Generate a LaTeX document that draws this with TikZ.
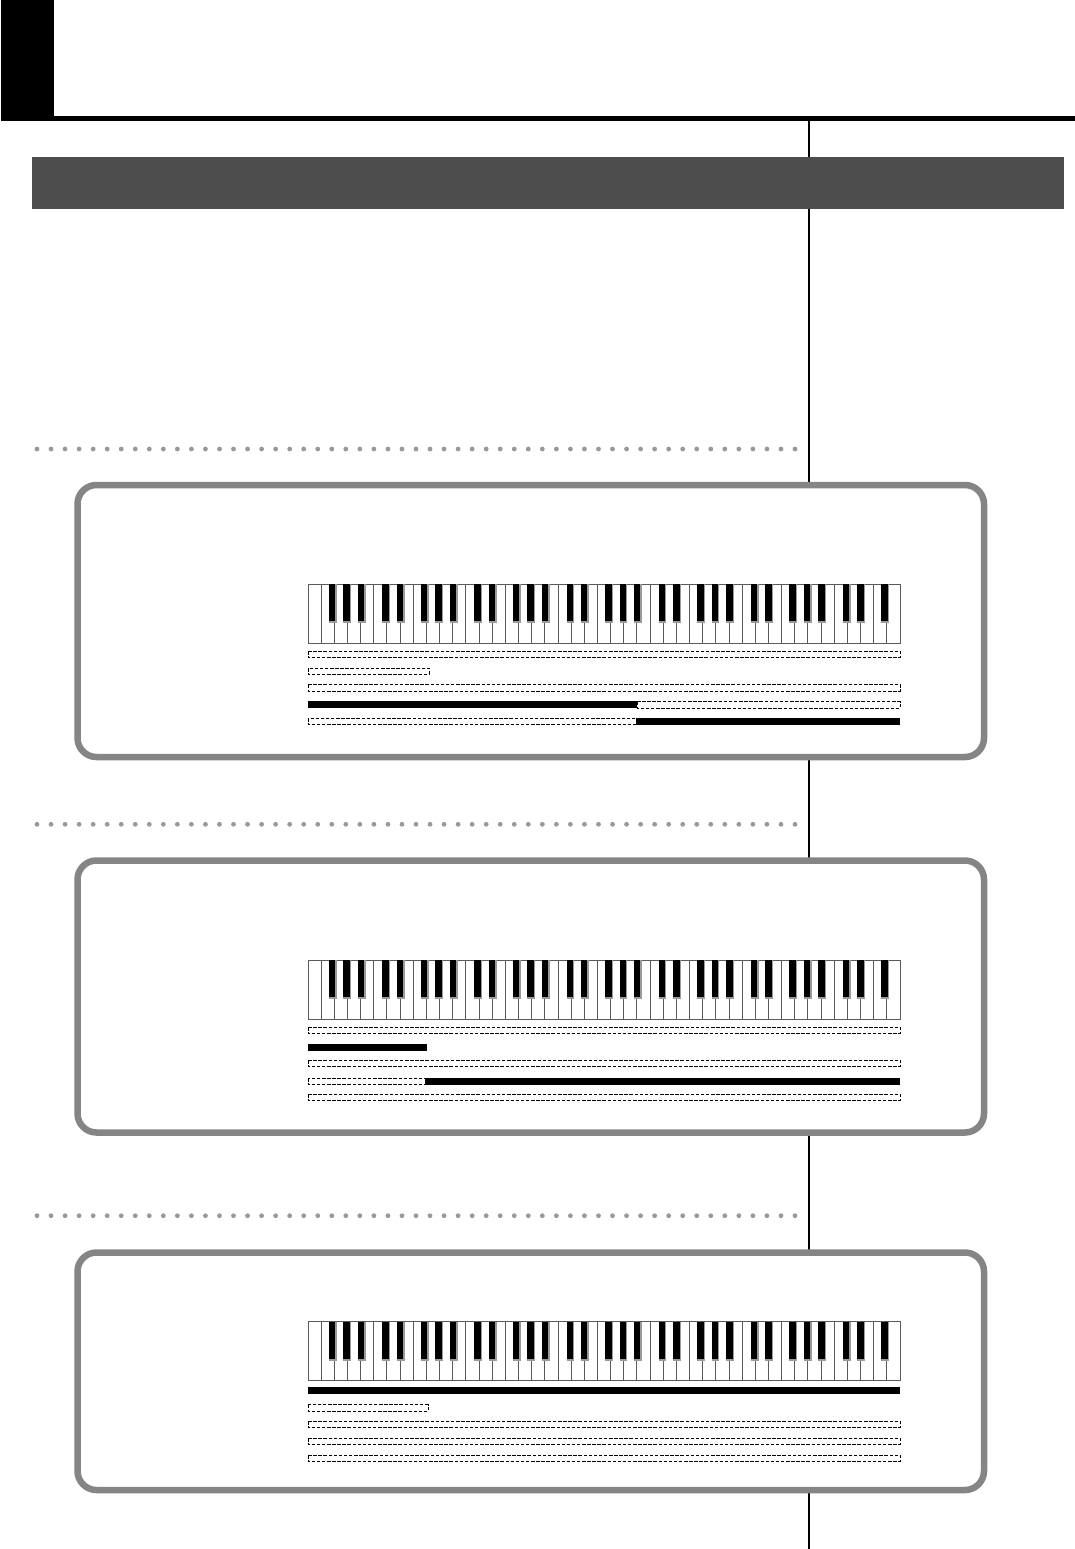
\documentclass[tikz,border=0pt]{standalone}
\usepackage{tikz}
\definecolor{barcol}{HTML}{4D4D4D}
\definecolor{panelcol}{HTML}{858585}
\definecolor{dotcol}{HTML}{999999}
\definecolor{keyline}{HTML}{5A5A5A}
\definecolor{keyshadecol}{HTML}{9A9A9A}
\tikzset{
  whitekey/.style={draw=keyline, line width=0.9pt, fill=white},
  blackkey/.style={fill=black},
  keyshade/.style={fill=keyshadecol},
  dashbar/.style={draw=black, line width=1pt, dash pattern=on 3.5pt off 1.6pt},
  solidbar/.style={fill=black},
  panelbox/.style={draw=panelcol, line width=6.5pt, rounded corners=19pt, fill=white},
  rulefill/.style={fill=black},
  dotmark/.style={fill=dotcol},
}
\newcommand{\kbd}[1]{%
  \foreach \i in {0,...,44}{%
    \draw[whitekey] ({308+\i*13.1556},#1) rectangle ({308+(\i+1)*13.1556},{#1+59});
  }%
  \foreach \i in {0,...,43}{%
    \pgfmathtruncatemacro{\m}{mod(\i,7)}%
    \ifcase\m \def\off{0}\or\def\off{-0.12}\or\def\off{-0.02}\or\def\off{0.08}\or\def\off{0}\or\def\off{-0.05}\or\def\off{0.05}\fi
    \ifnum\m=0 \else\ifnum\m=4 \else
      \pgfmathsetmacro{\cx}{308+(\i+1+\off)*13.1556}%
      \fill[keyshade] ({\cx-3.9},#1) rectangle ({\cx+3.9},{#1+39});
      \fill[blackkey] ({\cx-3.9},#1) rectangle ({\cx+2.5},{#1+37});
    \fi\fi
  }%
}
\newcommand{\dbar}[3]{\draw[dashbar] (#1,#3) rectangle (#2,{#3+6.5});}
\newcommand{\sbar}[3]{\fill[solidbar] (#1,#3) rectangle (#2,{#3+7});}
\newcommand{\dotrow}[1]{%
  \foreach \i in {0,...,54}{\fill[dotmark] ({37+\i*14.037},#1) circle (2.4);}%
}
\begin{document}
\begin{tikzpicture}[x=1pt,y=-1pt]
\useasboundingbox (0,0) rectangle (1075,1549);
\fill[white] (0,0) rectangle (1075,1549);
% vertical rule
\draw[line width=2pt] (809,121) -- (809,1549);
% header
\fill[rulefill] (1,0) rectangle (54,121);
\fill[rulefill] (54,116) rectangle (1075,121);
% grey title bar
\fill[barcol] (32,157) rectangle (1064,209);
% dotted separators
\dotrow{449}
\dotrow{824.3}
\dotrow{1215.7}
% panels
\draw[panelbox] (77.5,485) rectangle (984,757);
\draw[panelbox] (77.5,860.5) rectangle (984,1132.5);
\draw[panelbox] (77.5,1252.5) rectangle (984,1490);
% panel 1
\kbd{584}
\dbar{308}{900}{651}
\dbar{308}{429}{668}
\dbar{308}{900}{684.5}
\sbar{308}{637}{701}
\dbar{637}{900}{701.5}
\dbar{308}{636}{718}
\sbar{636}{900}{718}
% panel 2
\kbd{960}
\dbar{308}{900}{1027}
\sbar{308}{427}{1043.5}
\dbar{308}{900}{1060}
\dbar{308}{425}{1078}
\sbar{425}{900}{1078}
\dbar{308}{900}{1094}
% panel 3
\kbd{1321.5}
\sbar{308}{900}{1387}
\dbar{308}{428}{1404.5}
\dbar{308}{900}{1421}
\dbar{308}{900}{1438}
\dbar{308}{900}{1455}
\end{tikzpicture}
\end{document}
